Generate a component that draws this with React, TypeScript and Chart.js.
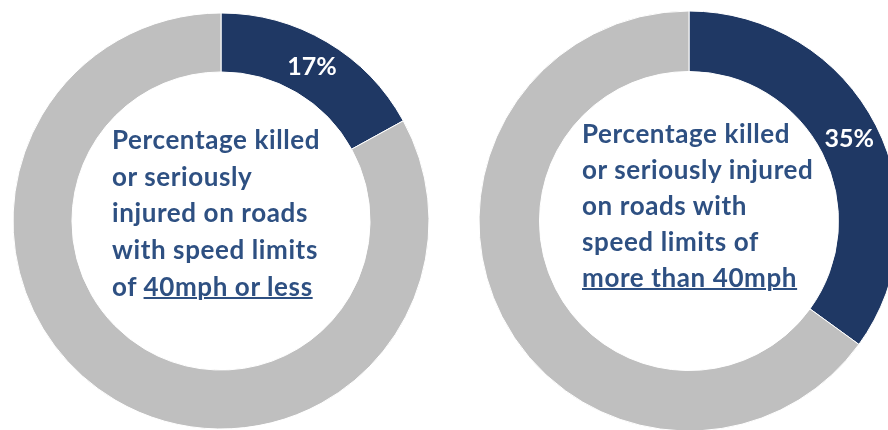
import React, { useEffect, useRef } from "react";
import { Chart, registerables } from "chart.js";

Chart.register(...registerables);

const CATEGORIES = ["Killed or seriously injured", "Other"];
const LOW_SPEED_VALUES = [17, 83];
const HIGH_SPEED_VALUES = [35, 65];
const COLORS = ["#1f3864", "#bfbfbf"];

const LEFT_LINES = ["Percentage killed", "or seriously", "injured on roads", "with speed limits"];
const LEFT_LAST_PLAIN = "of ";
const LEFT_LAST_UNDER = "40mph or less";
const RIGHT_LINES = ["Percentage killed", "or seriously injured", "on roads with", "speed limits of"];
const RIGHT_LAST_UNDER = "more than 40mph";

const FONT = "Lato, 'Open Sans', sans-serif";
const TEXT_COLOR = "#2e5082";

const pctLabelPlugin = {
  id: "pctLabel",
  afterDatasetsDraw(chart: any) {
    const meta = chart.getDatasetMeta(0);
    const arc = meta.data[0];
    if (!arc) return;
    const pos = arc.tooltipPosition(false);
    const ctx = chart.ctx;
    const v = chart.data.datasets[0].data[0];
    ctx.save();
    ctx.fillStyle = "#ffffff";
    ctx.font = `bold 25px ${FONT}`;
    ctx.textAlign = "center";
    ctx.textBaseline = "middle";
    ctx.fillText(`${v}%`, pos.x, pos.y);
    ctx.restore();
  },
};

function Donut({ values, radius, cutout, left, top, size }: any) {
  const ref = useRef<HTMLCanvasElement>(null);
  useEffect(() => {
    const chart = new Chart(ref.current!, {
      type: "doughnut",
      data: {
        labels: CATEGORIES,
        datasets: [
          {
            data: values,
            backgroundColor: COLORS,
            borderColor: "#ffffff",
            borderWidth: 1,
            hoverOffset: 0,
          },
        ],
      },
      options: {
        responsive: false,
        animation: false,
        radius,
        cutout,
        layout: { padding: 0 },
        plugins: { legend: { display: false }, tooltip: { enabled: false } },
      } as any,
      plugins: [pctLabelPlugin],
    });
    return () => chart.destroy();
  }, []);
  return (
    <canvas
      ref={ref}
      width={size}
      height={size}
      style={{ position: "absolute", left, top, width: size, height: size }}
    />
  );
}

const textStyle: React.CSSProperties = {
  position: "absolute",
  fontFamily: FONT,
  fontWeight: 700,
  fontSize: 26,
  letterSpacing: "0.6px",
  lineHeight: "36.7px",
  color: TEXT_COLOR,
  whiteSpace: "nowrap",
};

export default function App() {
  return (
    <div
      style={{
        position: "fixed",
        left: 0,
        top: 0,
        width: 888,
        height: 430,
        overflow: "hidden",
        background: "#ffffff",
      }}
    >
      <Donut values={LOW_SPEED_VALUES} radius={208} cutout={158} left={0} top={0} size={442} />
      <Donut values={HIGH_SPEED_VALUES} radius={210} cutout={157} left={468} top={0} size={442} />
      <div style={{ ...textStyle, left: 112, top: 121 }}>
        {LEFT_LINES.map((l) => (
          <div key={l}>{l}</div>
        ))}
        <div>
          {LEFT_LAST_PLAIN}
          <span style={{ textDecoration: "underline", textDecorationThickness: 2 }}>{LEFT_LAST_UNDER}</span>
        </div>
      </div>
      <div style={{ ...textStyle, left: 582, lineHeight: "36px", top: 115 }}>
        {RIGHT_LINES.map((l) => (
          <div key={l}>{l}</div>
        ))}
        <div>
          <span style={{ textDecoration: "underline", textDecorationThickness: 2 }}>{RIGHT_LAST_UNDER}</span>
        </div>
      </div>
    </div>
  );
}
